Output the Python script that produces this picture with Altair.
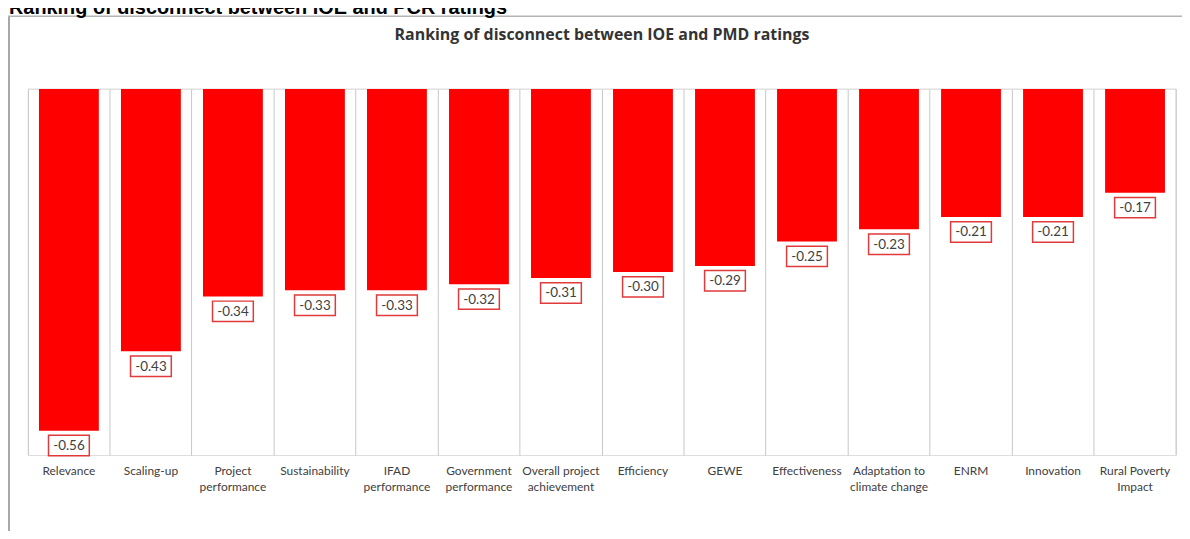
import altair as alt
import pandas as pd

categories = ["Relevance", "Scaling-up", "Project|performance", "Sustainability",
              "IFAD|performance", "Government|performance", "Overall project|achievement",
              "Efficiency", "GEWE", "Effectiveness", "Adaptation to|climate change",
              "ENRM", "Innovation", "Rural Poverty|Impact"]
values = [-0.56, -0.43, -0.34, -0.33, -0.33, -0.32, -0.31, -0.30, -0.29, -0.25,
          -0.23, -0.21, -0.21, -0.17]
labels = [f"{v:.2f}" for v in values]

outer_title = "Ranking of disconnect between IOE and PCR ratings"
inner_title = "Ranking of disconnect between IOE and PMD ratings"

W, H = 1154, 368

df = pd.DataFrame({"cat": categories, "value": values, "label": labels})
one = pd.DataFrame({"k": [0]})

x_enc = alt.X("cat:N", sort=None, title=None,
              scale=alt.Scale(paddingInner=0, paddingOuter=0),
              axis=alt.Axis(grid=True, gridColor="#c8c8c8", gridWidth=1, bandPosition=0,
                            ticks=False, domain=False, labelAngle=0, labelFont="Lato",
                            labelFontSize=12, labelColor="#404040", labelPadding=11,
                            labelBaseline="top", labelLineHeight=16,
                            labelExpr="split(datum.value, '|')"))
y_scale = alt.Scale(domain=[-0.6, 0], nice=False, zero=False)

base = alt.Chart(df)

bars = base.mark_bar(color="#ff0000", width=alt.RelativeBandSize(0.73)).encode(
    x=x_enc,
    y=alt.Y("value:Q", scale=y_scale, axis=None),
    y2=alt.datum(0),
)

boxes = base.mark_point(
    shape="M-1,-0.5L1,-0.5L1,0.5L-1,0.5Z", size=41 * 41, filled=False,
    fill="white", fillOpacity=1, stroke="#e03a3a", strokeWidth=1.5, opacity=1,
    yOffset=15,
).encode(x=alt.X("cat:N", sort=None), y=alt.Y("value:Q", scale=y_scale))

texts = base.mark_text(font="Lato", fontSize=13.5, color="#404040", baseline="middle",
                       yOffset=15.5).encode(
    x=alt.X("cat:N", sort=None), y=alt.Y("value:Q", scale=y_scale), text="label:N")

zero_line = alt.Chart(one).mark_rule(color="#e4e4e4", strokeWidth=1).encode(
    x=alt.value(0), x2=alt.value(W), y=alt.value(0))
right_grid = alt.Chart(one).mark_rule(color="#c8c8c8", strokeWidth=1).encode(
    x=alt.value(W), y=alt.value(0), y2=alt.value(H))
frame_left = alt.Chart(one).mark_rule(color="#a8a8a8", strokeWidth=2).encode(
    x=alt.value(-19), y=alt.value(-73), y2=alt.value(H + 80))
frame_top = alt.Chart(one).mark_rule(color="#b4b4b4", strokeWidth=1.5).encode(
    x=alt.value(-20), x2=alt.value(W + 10), y=alt.value(-73))

t_inner = alt.Chart(one).mark_text(font="Open Sans", fontSize=16, fontWeight="bold",
                                   color="#333333", baseline="middle", align="center").encode(
    x=alt.value(W / 2), y=alt.value(-54), text=alt.value(inner_title))
t_outer = alt.Chart(one).mark_text(font="Liberation Sans", fontSize=20, fontWeight="bold",
                                   color="#000000", baseline="alphabetic", align="left").encode(
    x=alt.value(-19), y=alt.value(-75), text=alt.value(outer_title))

chart = alt.layer(zero_line, right_grid, bars, boxes, texts, frame_left, frame_top,
                  t_inner, t_outer).properties(
    width=W, height=H,
    autosize=alt.AutoSizeParams(type="none"),
    padding={"left": 20, "top": 80, "right": 6, "bottom": 75},
).configure_view(stroke=None).configure(background="white")

chart.save("out.html", embed_options={"renderer": "svg", "actions": False})
